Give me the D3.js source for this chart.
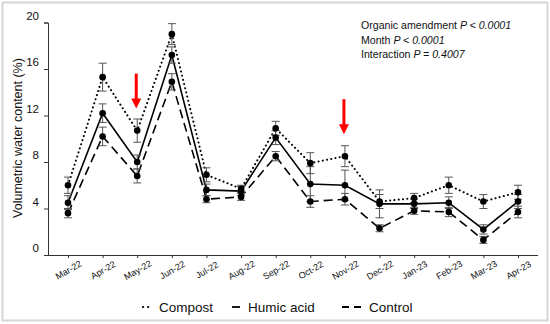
<!DOCTYPE html>
<html>
<head>
<meta charset="utf-8">
<script src="https://cdn.jsdelivr.net/npm/d3@7"></script>
<style>
  body { margin: 0; background: #fff; }
  svg text { font-family: "Liberation Sans", Arial, sans-serif; }
</style>
</head>
<body>
<div id="chart"></div>
<script>
const months = ['Mar-22','Apr-22','May-22','Jun-22','Jul-22','Aug-22','Sep-22','Oct-22','Nov-22','Dec-22','Jan-23','Feb-23','Mar-23','Apr-23'];
const yTicks = [0, 4, 8, 12, 16, 20];

const compost    = [6.0, 15.3, 10.7, 19.0, 6.9, 5.7, 10.9, 7.9, 8.5, 4.6, 4.9, 6.0, 4.6, 5.4];
const compostErr = [0.7, 1.2, 1.0, 0.9, 0.6, 0.3, 0.6, 0.9, 0.9, 0.6, 0.4, 0.7, 0.6, 0.6];
const humic      = [4.5, 12.2, 8.0, 17.2, 5.6, 5.5, 10.1, 6.1, 6.0, 4.4, 4.4, 4.5, 2.2, 4.6];
const humicErr   = [0.6, 0.8, 0.6, 0.7, 0.5, 0.4, 0.6, 1.5, 1.3, 1.2, 0.4, 0.5, 0.4, 0.6];
const control    = [3.6, 10.2, 6.8, 14.9, 4.8, 5.0, 8.5, 4.6, 4.8, 2.3, 3.8, 3.7, 1.3, 3.7];
const controlErr = [0.4, 0.8, 0.6, 0.7, 0.3, 0.3, 0.4, 0.5, 0.5, 0.3, 0.3, 0.4, 0.3, 0.5];

const arrowMonths = ['May-22', 'Nov-22'];
const stats = [
  ['Organic amendment ', 'P < 0.0001'],
  ['Month ', 'P < 0.0001'],
  ['Interaction ', 'P = 0.4007']
];

const series = [
  { name: 'Compost',    values: compost, err: compostErr, dash: '0.1,4.2', cap: 'round', width: 2 },
  { name: 'Humic acid', values: humic,   err: humicErr,   dash: null,      cap: 'butt',  width: 1.6 },
  { name: 'Control',    values: control, err: controlErr, dash: '9,5',     cap: 'butt',  width: 1.6 }
];

const W = 550, H = 324;
const svg = d3.select('#chart').append('svg')
  .attr('width', W).attr('height', H);

// frame
svg.append('rect')
  .attr('x', 2.5).attr('y', 2.5)
  .attr('width', 545).attr('height', 318)
  .attr('fill', '#fff')
  .attr('stroke', '#d6d6d6')
  .attr('stroke-width', 2);

const x = d3.scalePoint().domain(months).range([68, 518]);
const y = d3.scaleLinear().domain([0, 20]).range([255, 22.5]);

// y axis
const yAxis = svg.append('g')
  .attr('transform', 'translate(48,0)')
  .call(d3.axisLeft(y).tickValues(yTicks).tickSize(4).tickPadding(5));
yAxis.select('.domain').attr('stroke', '#333');
yAxis.selectAll('.tick line').attr('stroke', '#333');
yAxis.selectAll('.tick text')
  .attr('font-size', 11.5)
  .attr('fill', '#111')
  .attr('dy', '-0.3em')
  .attr('font-family', '"Liberation Sans", Arial, sans-serif');

// x axis
const xAxis = svg.append('g')
  .attr('transform', 'translate(0,255)')
  .call(d3.axisBottom(x).tickSize(3).tickSizeOuter(0));
xAxis.select('.domain').attr('d', 'M48,0.5H538').attr('stroke', '#333');
xAxis.selectAll('.tick line').attr('stroke', '#333');
xAxis.selectAll('.tick text')
  .attr('font-size', 9)
  .attr('fill', '#111')
  .attr('font-family', '"Liberation Sans", Arial, sans-serif')
  .attr('text-anchor', 'middle')
  .attr('y', 0)
  .attr('dy', '0.35em')
  .attr('transform', 'translate(0,15) rotate(-30)');

// y axis title
svg.append('text')
  .attr('transform', 'translate(22,138) rotate(-90)')
  .attr('text-anchor', 'middle')
  .attr('font-size', 12.5)
  .attr('fill', '#111')
  .text('Volumetric water content (%)');

// lines
const line = d3.line()
  .x((d, i) => x(months[i]))
  .y(d => y(d));

series.forEach(s => {
  svg.append('path')
    .datum(s.values)
    .attr('d', line)
    .attr('fill', 'none')
    .attr('stroke', '#000')
    .attr('stroke-width', s.width)
    .attr('stroke-linecap', s.cap)
    .attr('stroke-dasharray', s.dash);
});

// error bars
series.forEach(s => {
  const g = svg.append('g').attr('stroke', '#555').attr('stroke-width', 1);
  s.values.forEach((v, i) => {
    const cx = x(months[i]);
    const lo = y(v - s.err[i]), hi = y(v + s.err[i]);
    g.append('line').attr('x1', cx).attr('x2', cx).attr('y1', lo).attr('y2', hi);
    g.append('line').attr('x1', cx - 4).attr('x2', cx + 4).attr('y1', lo).attr('y2', lo);
    g.append('line').attr('x1', cx - 4).attr('x2', cx + 4).attr('y1', hi).attr('y2', hi);
  });
});

// markers
series.forEach(s => {
  svg.append('g').selectAll('circle')
    .data(s.values)
    .join('circle')
    .attr('cx', (d, i) => x(months[i]))
    .attr('cy', d => y(d))
    .attr('r', 3.3)
    .attr('fill', '#000');
});

// red arrows above compost values
arrowMonths.forEach(m => {
  const i = months.indexOf(m);
  const cx = x(m) - 1;
  const tip = y(compost[i]) - 22;
  svg.append('line')
    .attr('x1', cx).attr('x2', cx)
    .attr('y1', tip - 35).attr('y2', tip - 8)
    .attr('stroke', '#f00').attr('stroke-width', 3);
  svg.append('path')
    .attr('d', `M${cx - 5},${tip - 10}L${cx + 5},${tip - 10}L${cx},${tip}Z`)
    .attr('fill', '#f00');
});

// stats text
const st = svg.append('g');
stats.forEach((r, i) => {
  const t = st.append('text')
    .attr('x', 361).attr('y', 29 + i * 14.5)
    .attr('font-size', 10.6)
    .attr('fill', '#111');
  t.append('tspan').text(r[0]);
  t.append('tspan').attr('font-style', 'italic').text(r[1]);
});

// legend
const legend = [
  { name: 'Compost',    x: 143, dash: '0.1,5', cap: 'round', width: 2.2, len: 8 },
  { name: 'Humic acid', x: 232, dash: null,    cap: 'butt',  width: 1.8, len: 8 },
  { name: 'Control',    x: 342, dash: '7,5',   cap: 'butt',  width: 1.8, len: 19 }
];
legend.forEach(l => {
  svg.append('line')
    .attr('x1', l.x).attr('x2', l.x + l.len)
    .attr('y1', 307).attr('y2', 307)
    .attr('stroke', '#000')
    .attr('stroke-width', l.width)
    .attr('stroke-linecap', l.cap)
    .attr('stroke-dasharray', l.dash);
  svg.append('text')
    .attr('x', l.x + l.len + 8).attr('y', 311.5)
    .attr('font-size', 13.5)
    .attr('fill', '#111')
    .text(l.name);
});
</script>
</body>
</html>
